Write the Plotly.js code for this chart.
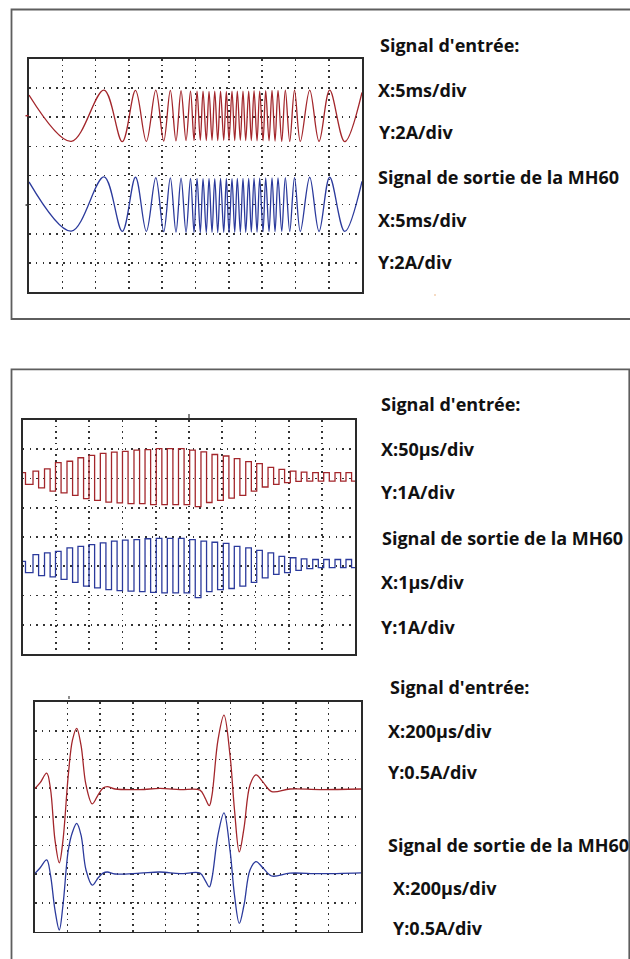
<!DOCTYPE html>
<html>
<head>
<meta charset="utf-8">
<script src="https://cdn.plot.ly/plotly-3.0.1.min.js"></script>
<style>html,body{margin:0;padding:0;background:#fff;}#chart{width:630px;height:959px;}</style>
</head>
<body>
<div id="chart"></div>
<script>
// ---------- Panel 1 : chirp, X:5ms/div, values in screen divisions ----------
const p1_time_ms = [0, 6.35, 11.26, 14.01, 15.99, 17.62, 19.04, 20.23, 21.22, 22.07, 22.83, 23.58, 24.25, 24.78, 25.23, 25.72, 26.13, 26.62, 27.03, 27.48, 27.89, 28.34, 28.76, 29.24, 29.63, 30.03, 30.48, 30.89, 31.28, 31.73, 32.13, 32.54, 32.99, 33.38, 33.79, 34.24, 34.64, 35.14, 35.54, 36.04, 36.49, 36.94, 37.39, 37.95, 38.49, 39.15, 39.87, 40.74, 42.15, 43.55, 45.15, 47.41, 50];
const p1_input = [2.76, 1.17, 2.93, 1.16, 2.92, 1.17, 2.93, 1.18, 2.92, 1.19, 2.91, 1.2, 2.9, 1.2, 2.9, 1.21, 2.9, 1.2, 2.89, 1.21, 2.9, 1.2, 2.9, 1.21, 2.89, 1.2, 2.9, 1.2, 2.9, 1.21, 2.9, 1.2, 2.9, 1.2, 2.91, 1.19, 2.9, 1.19, 2.91, 1.19, 2.92, 1.18, 2.92, 1.17, 2.93, 1.17, 2.93, 1.17, 2.93, 1.17, 2.93, 1.16, 2.85];
const p1_output = [-0.22, -1.91, -0.05, -1.92, -0.06, -1.92, -0.07, -1.93, -0.08, -1.94, -0.09, -1.95, -0.1, -1.95, -0.1, -1.96, -0.11, -1.96, -0.1, -1.95, -0.11, -1.96, -0.1, -1.95, -0.1, -1.96, -0.11, -1.95, -0.1, -1.95, -0.1, -1.95, -0.1, -1.94, -0.09, -1.94, -0.09, -1.93, -0.08, -1.93, -0.08, -1.93, -0.08, -1.92, -0.07, -1.92, -0.07, -1.92, -0.06, -1.92, -0.06, -1.92, -0.2];

// ---------- Panel 2 : burst, X:50us/div (step points: level after each edge) ----------
const p2_time_us = [0, 4.2, 15.5, 23.9, 32.8, 41.2, 49.3, 57.7, 66.6, 75, 83.1, 91.5, 99.7, 108.1, 116.7, 125.1, 133.5, 141.9, 150, 158.4, 167.3, 175.7, 183.9, 192.3, 200.8, 209.2, 217.4, 225.8, 234.2, 242.6, 251, 259.4, 268, 276.4, 284.6, 293, 301.6, 310, 318.1, 326.5, 335.3, 343.7, 351.8, 360.2, 368.8, 377.2, 385.3, 393.7, 402.3, 410.7, 418.8, 427.2, 436, 444.4, 452.5, 460.9, 469.5, 477.9, 486, 494.4, 500];
const p2_input = [2.2, 1.8, 2.25, 1.68, 2.33, 1.57, 2.54, 1.51, 2.59, 1.42, 2.71, 1.31, 2.79, 1.25, 2.86, 1.19, 2.9, 1.17, 2.93, 1.14, 2.97, 1.14, 2.99, 1.11, 3.02, 1.11, 3.02, 1.11, 3.02, 1.11, 2.97, 1.04, 2.91, 1.18, 2.82, 1.25, 2.77, 1.33, 2.68, 1.42, 2.58, 1.57, 2.51, 1.71, 2.38, 1.8, 2.31, 1.86, 2.25, 1.9, 2.22, 1.91, 2.2, 1.91, 2.2, 1.91, 2.2, 1.91, 2.2, 1.91, 1.91];
const p2_output = [-0.83, -1.22, -0.6, -1.32, -0.54, -1.36, -0.49, -1.45, -0.37, -1.55, -0.32, -1.68, -0.26, -1.74, -0.2, -1.8, -0.14, -1.83, -0.11, -1.85, -0.09, -1.87, -0.06, -1.89, -0.05, -1.91, -0.05, -1.91, -0.05, -1.91, -0.09, -2.07, -0.14, -1.87, -0.18, -1.8, -0.22, -1.76, -0.32, -1.68, -0.37, -1.55, -0.46, -1.4, -0.54, -1.28, -0.66, -1.22, -0.71, -1.14, -0.75, -1.08, -0.77, -1.05, -0.77, -1.05, -0.77, -1.05, -0.77, -1.05, -1.05];

// ---------- Panel 3 : pulses, X:200us/div ----------
const p3_time_us = [0, 30.7, 71.8, 95.1, 122.7, 149.1, 171.8, 204.3, 230.1, 255.8, 282.2, 312.9, 351.5, 386.5, 417.2, 443.6, 490.8, 644.2, 766.9, 889.6, 1012.3, 1043, 1069.3, 1085.9, 1122.7, 1159.5, 1196.3, 1223.9, 1253.3, 1282.2, 1319, 1355.8, 1398.8, 1452.2, 1564.4, 1748.5, 2000];
const p3_input = [0.99, 1.18, 1.52, 0.97, -0.81, -1.6, -0.81, 1.46, 2.68, 3.08, 2.5, 1.11, 0.45, 0.76, 1.0, 1.05, 0.97, 0.95, 0.99, 0.95, 0.93, 0.66, 0.39, 0.76, 2.68, 3.54, 2.15, 0.24, -1.22, -0.39, 1.11, 1.46, 1.21, 0.88, 0.97, 0.95, 0.97];
const p3_output = [-1.97, -1.78, -1.5, -2.03, -3.25, -3.94, -3.07, -1.16, -0.53, -0.23, -0.63, -1.85, -2.38, -2.13, -1.96, -1.92, -1.99, -1.96, -1.92, -1.98, -1.96, -2.2, -2.44, -2.13, -0.63, 0.14, -1.16, -2.73, -3.71, -3.07, -1.85, -1.56, -1.78, -2.06, -1.96, -1.98, -1.95];

// ---------- Text ----------
const p1_labels = ["Signal d'entrée:", "X:5ms/div", "Y:2A/div", "Signal de sortie de la MH60", "X:5ms/div", "Y:2A/div"];
const p2_labels = ["Signal d'entrée:", "X:50µs/div", "Y:1A/div", "Signal de sortie de la MH60", "X:1µs/div", "Y:1A/div"];
const p3_labels = ["Signal d'entrée:", "X:200µs/div", "Y:0.5A/div", "Signal de sortie de la MH60", "X:200µs/div", "Y:0.5A/div"];

const RED = '#a3262b', BLUE = '#2b3a9c';
const W = 630, H = 959;
const px = v => v / W, py = v => 1 - v / H;

function line(x, y, xa, ya, color, shape) {
  return {x: x, y: y, xaxis: xa, yaxis: ya, type: 'scatter', mode: 'lines',
    line: {color: color, width: 1.3, shape: shape, smoothing: 1}, hoverinfo: 'skip'};
}
const data = [
  line(p1_time_ms, p1_input, 'x', 'y', RED, 'spline'),
  line(p1_time_ms, p1_output, 'x', 'y', BLUE, 'spline'),
  line(p2_time_us, p2_input, 'x2', 'y2', RED, 'hv'),
  line(p2_time_us, p2_output, 'x2', 'y2', BLUE, 'hv'),
  line(p3_time_us, p3_input, 'x3', 'y3', RED, 'spline'),
  line(p3_time_us, p3_output, 'x3', 'y3', BLUE, 'spline')
];

function ax(extra) {
  return Object.assign({showticklabels: false, ticks: '', zeroline: false, showgrid: true,
    gridcolor: '#333333', gridwidth: 1.6, showline: true, mirror: true,
    linecolor: '#2a2a2a', linewidth: 1.6, fixedrange: true}, extra);
}
const XG = '1.6px,5.2px', YG = '1.6px,4.1px';

const layout = {
  width: W, height: H, margin: {l: 0, r: 0, t: 0, b: 0},
  paper_bgcolor: '#ffffff', plot_bgcolor: '#ffffff', showlegend: false,
  xaxis:  ax({domain: [px(29), px(362)], range: [0, 50], tick0: 0, dtick: 5, griddash: YG, anchor: 'y'}),
  yaxis:  ax({domain: [py(292), py(59)], range: [-4, 4], tick0: 0, dtick: 1, griddash: XG, anchor: 'x'}),
  xaxis2: ax({domain: [px(22.7), px(355.3)], range: [0, 500], tick0: 0, dtick: 50, griddash: YG, anchor: 'y2'}),
  yaxis2: ax({domain: [py(654), py(420)], range: [-4, 4], tick0: 0, dtick: 1, griddash: XG, anchor: 'x2'}),
  xaxis3: ax({domain: [px(35), px(361)], range: [0, 2000], tick0: 0, dtick: 200, griddash: YG, anchor: 'y3'}),
  yaxis3: ax({domain: [py(931.7), py(702)], range: [-4, 4], tick0: 0, dtick: 1, griddash: XG, anchor: 'x3'}),
  shapes: [
    {type: 'rect', xref: 'paper', yref: 'paper', x0: px(11.5), x1: px(700), y0: py(319), y1: py(9.5), line: {color: '#5e5e5e', width: 1.8}},
    {type: 'rect', xref: 'paper', yref: 'paper', x0: px(11.5), x1: px(629.3), y0: py(1000), y1: py(369.3), line: {color: '#5e5e5e', width: 1.8}},
    {type: 'line', xref: 'paper', yref: 'paper', x0: px(25.5), x1: px(28.5), y0: py(115.7), y1: py(115.7), line: {color: RED, width: 1.5}},
    {type: 'line', xref: 'paper', yref: 'paper', x0: px(25.5), x1: px(28.5), y0: py(205), y1: py(205), line: {color: '#333', width: 1.5}},
    {type: 'line', xref: 'paper', yref: 'paper', x0: px(189), x1: px(189), y0: py(414), y1: py(419), line: {color: '#333', width: 1.2}},
    {type: 'line', xref: 'paper', yref: 'paper', x0: px(69), x1: px(69), y0: py(696), y1: py(699), line: {color: '#444', width: 1.2}},
    {type: 'line', xref: 'paper', yref: 'paper', x0: px(434.5), x1: px(435.5), y0: py(295), y1: py(295), line: {color: '#e8a060', width: 1.5}}
  ],
  annotations: []
};

const textFont = {family: 'Open Sans, sans-serif', size: 18, color: '#111111', weight: 'bold'};
function addLabels(labels, xs, ys) {
  labels.forEach((t, i) => layout.annotations.push({
    text: '<b>' + t + '</b>', xref: 'paper', yref: 'paper', x: px(xs[i]), y: py(ys[i]),
    xanchor: 'left', yanchor: 'middle', showarrow: false, font: textFont
  }));
}
addLabels(p1_labels, [378, 376, 377, 376, 376, 376], [45, 90, 132, 177, 220, 262]);
addLabels(p2_labels, [379, 379, 379, 380, 379, 379], [404, 449, 492, 538, 582, 627]);
addLabels(p3_labels, [388, 386, 386, 385.5, 391, 390.5], [687, 731, 772, 845, 888, 928]);

Plotly.newPlot('chart', data, layout, {displayModeBar: false, staticPlot: true});
</script>
</body>
</html>
